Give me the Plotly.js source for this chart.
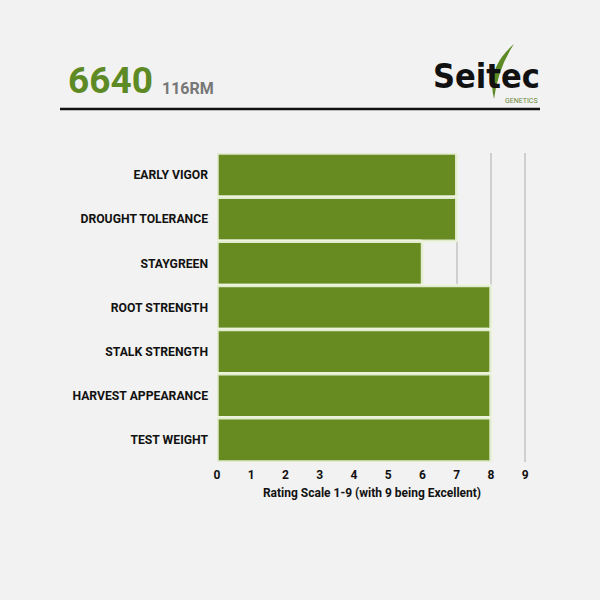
<!DOCTYPE html>
<html><head><meta charset="utf-8">
<script src="https://cdn.plot.ly/plotly-3.0.1.min.js"></script>
<style>html,body{margin:0;padding:0;background:#f2f2f2;}</style>
</head><body><div id="chart" style="width:600px;height:600px;"></div>
<script>
const categories = ["EARLY VIGOR","DROUGHT TOLERANCE","STAYGREEN","ROOT STRENGTH","STALK STRENGTH","HARVEST APPEARANCE","TEST WEIGHT"];
const ratings = [7,7,6,8,8,8,8];
const tickVals = [0,1,2,3,4,5,6,7,8,9];
const productName = "6640";
const maturity = "116RM";
const xTitle = "Rating Scale 1-9 (with 9 being Excellent)";

const L = 217, R = 73, T = 153, B = 138;
const W = 600 - L - R, H = 600 - T - B;
const px = v => (v - L) / W;
const py = v => (600 - B - v) / H;

const trace = {
  type: 'bar', orientation: 'h',
  x: ratings, y: categories,
  marker: {color: '#678a21', line: {color: 'rgba(238,245,224,0.9)', width: 3.5}, cornerradius: 3},
  hoverinfo: 'none'
};

const layout = {
  width: 600, height: 600,
  paper_bgcolor: '#f2f2f2', plot_bgcolor: '#f2f2f2',
  margin: {l: L, r: R, t: T, b: B},
  showlegend: false,
  bargap: 0,
  font: {family: 'Roboto, sans-serif', color: '#111'},
  xaxis: {
    range: [0, 9.05], tickvals: tickVals, showgrid: true, gridcolor: '#cfcfcf', gridwidth: 2,
    zeroline: false, showline: false, ticks: '', ticklabelstandoff: 4,
    tickfont: {size: 12, weight: 'bold', color: '#111'},
    title: {text: xTitle, font: {size: 12, weight: 'bold', color: '#111'}, standoff: 7},
    fixedrange: true
  },
  yaxis: {
    autorange: 'reversed', type: 'category', showgrid: false, zeroline: false, ticks: '',
    tickfont: {size: 12.2, weight: 'bold', color: '#111'}, ticklabelstandoff: 8,
    fixedrange: true
  },
  shapes: [
    {type: 'line', xref: 'paper', yref: 'paper', x0: px(60), x1: px(540), y0: py(109), y1: py(109),
     line: {color: '#111', width: 2.5}},
    {type: 'path', xref: 'paper', yref: 'paper',
     path: `M ${px(514)} ${py(44)} Q ${px(486)} ${py(68)} ${px(494)} ${py(99)} Q ${px(498)} ${py(68)} ${px(514)} ${py(44)} Z`,
     fillcolor: '#5e8a25', line: {width: 0}}
  ],
  annotations: [
    {xref: 'paper', yref: 'paper', x: px(66), y: py(96), xanchor: 'left', yanchor: 'bottom', showarrow: false,
     text: productName, font: {family: 'Roboto, sans-serif', size: 37, weight: 'bold', color: '#5e8a25'}, yshift: -8},
    {xref: 'paper', yref: 'paper', x: px(160), y: py(96), xanchor: 'left', yanchor: 'bottom', showarrow: false,
     text: maturity, font: {family: 'Roboto, sans-serif', size: 16, weight: 'bold', color: '#777'}, yshift: -4},
    {xref: 'paper', yref: 'paper', x: px(542), y: py(92), xanchor: 'right', yanchor: 'bottom', showarrow: false,
     text: 'Seitec', font: {family: '"DejaVu Sans Condensed", "Liberation Sans Narrow", sans-serif', size: 34, weight: 'bold', color: '#111'}, yshift: -6},
    {xref: 'paper', yref: 'paper', x: px(540), y: py(104), xanchor: 'right', yanchor: 'bottom', showarrow: false,
     text: 'GENETICS', font: {family: 'Roboto, sans-serif', size: 7, color: '#6a8a3a'}, yshift: -3}
  ]
};

Plotly.newPlot('chart', [trace], layout, {displayModeBar: false, staticPlot: true});
</script></body></html>
